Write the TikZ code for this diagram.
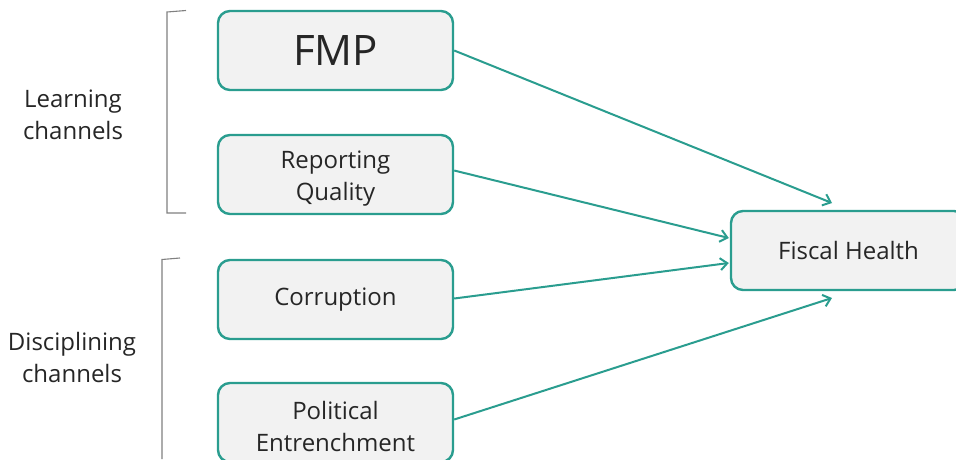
\documentclass[tikz,border=0pt]{standalone}
\usepackage{fontspec}
\setmainfont{Open Sans}
\usetikzlibrary{arrows.meta,calc}
\definecolor{teal1}{HTML}{2A9D8F}
\definecolor{boxfill}{HTML}{F2F2F2}
\definecolor{txt}{HTML}{262626}
\definecolor{brk}{HTML}{808080}
\newcommand{\twoline}[2]{\raisebox{-10pt}[0pt][0pt]{\parbox{220pt}{\centering #1\\#2}}}
\begin{document}
\begin{tikzpicture}[x=1pt,y=-1pt,
  box/.style={draw=teal1, line width=2.4pt, fill=boxfill, rounded corners=12pt,
    minimum width=235pt, minimum height=79pt, inner sep=0pt, align=center,
    text=txt, font=\fontsize{24}{32}\selectfont},
  conn/.style={draw=teal1, line width=2pt, -{Straight Barb[length=7pt,width=12pt,line width=2pt]}},
  lbl/.style={align=center, text=txt, font=\fontsize{24}{32}\selectfont},
  brack/.style={draw=brk, line width=1.1pt}]
\useasboundingbox (0,0) rectangle (956,459);
\node[box, font=\fontsize{42}{50}\selectfont] (fmp) at (335.5,50.5) {FMP};
\node[box] (rq) at (335.5,174.5) {\twoline{Reporting}{Quality}};
\node[box] (cor) at (335.5,299.5) {Corruption};
\node[box] (pol) at (335.5,422.5) {\twoline{Political}{Entrenchment}};
\node[box] (fh) at (848.5,250.5) {Fiscal Health};
\node[lbl] (l1) at (73,115) {Learning\\channels};
\node[lbl] (l2) at (72,357) {Disciplining\\channels};
\coordinate (t1) at (832,203);
\coordinate (t4) at (832,298);
\coordinate (b1a) at (186,10.5);
\coordinate (b1b) at (167,12);
\coordinate (b1c) at (167,213);
\coordinate (b1d) at (186,213);
\coordinate (b2a) at (180,258);
\coordinate (b2b) at (162,259.5);
\coordinate (b2c) at (162,459);
\draw[brack] (b1a) -- (b1b) -- (b1c) -- (b1d);
\draw[brack] (b2a) -- (b2b) -- (b2c);
\draw[conn] (fmp.east) -- (t1);
\draw[conn] ($(rq.east)+(0,-4)$) -- ($(fh.west)+(-1,-12.5)$);
\draw[conn] ($(cor.east)+(0,-1)$) -- ($(fh.west)+(-1,12.5)$);
\draw[conn] ($(pol.east)+(0,-3)$) -- (t4);
\end{tikzpicture}
\end{document}
